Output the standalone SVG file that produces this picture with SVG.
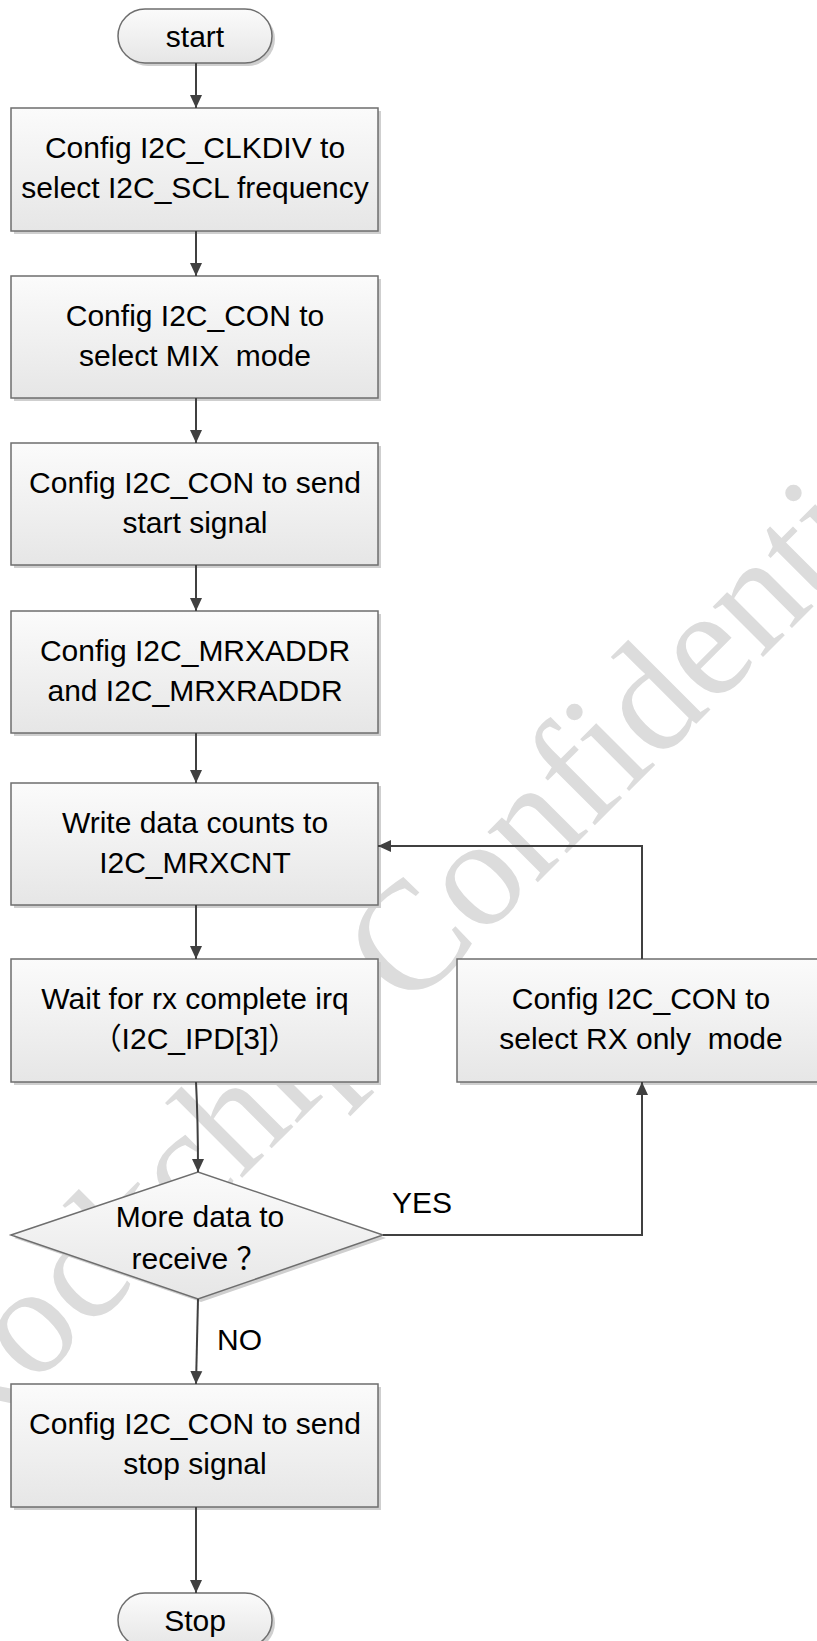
<svg xmlns="http://www.w3.org/2000/svg" width="817" height="1641" viewBox="0 0 817 1641">
<style>
.box{fill:url(#g);stroke:#6e6e6e;stroke-width:1.5}
.sh{fill:#cfcfcf}
.t{font-family:"Liberation Sans","Noto Sans CJK SC",sans-serif;font-size:30px;fill:#000;text-anchor:middle}
.lbl{font-family:"Liberation Sans",sans-serif;font-size:30px;fill:#000}
.c{fill:none;stroke:#404040;stroke-width:2}
.wm{font-family:"Liberation Serif",serif;font-size:155px;fill:#dcdcdc}
</style>
<defs>
<linearGradient id="g" x1="0" y1="0" x2="0" y2="1">
<stop offset="0" stop-color="#fbfbfb"/>
<stop offset="1" stop-color="#e6e6e6"/>
</linearGradient>
<marker id="arr" markerWidth="14" markerHeight="14" refX="13" refY="7" orient="auto" markerUnits="userSpaceOnUse">
<path d="M0,1 L13,7 L0,13 z" fill="#404040"/>
</marker>
</defs>
<rect width="817" height="1641" fill="#fff"/>
<text class="wm" transform="translate(-40,1460) rotate(-45)">Rockchip Confidential</text>

<g id="start">
<rect class="sh" x="121" y="12" width="154" height="54" rx="27"/>
<rect class="box" x="118" y="9" width="154" height="54" rx="27"/>
<text class="t" x="195" y="47">start</text>
</g>
<g id="clkdiv">
<rect class="sh" x="14" y="111" width="367" height="123"/>
<rect class="box" x="11" y="108" width="367" height="123"/>
<text class="t" x="195" y="158">Config I2C_CLKDIV to</text>
<text class="t" x="195" y="198">select I2C_SCL frequency</text>
</g>
<g id="mix">
<rect class="sh" x="14" y="279" width="367" height="122"/>
<rect class="box" x="11" y="276" width="367" height="122"/>
<text class="t" x="195" y="326" xml:space="preserve">Config I2C_CON to</text>
<text class="t" x="195" y="366" xml:space="preserve">select MIX  mode</text>
</g>
<g id="startsig">
<rect class="sh" x="14" y="446" width="367" height="122"/>
<rect class="box" x="11" y="443" width="367" height="122"/>
<text class="t" x="195" y="493">Config I2C_CON to send</text>
<text class="t" x="195" y="533">start signal</text>
</g>
<g id="addr">
<rect class="sh" x="14" y="614" width="367" height="122"/>
<rect class="box" x="11" y="611" width="367" height="122"/>
<text class="t" x="195" y="661">Config I2C_MRXADDR</text>
<text class="t" x="195" y="701">and I2C_MRXRADDR</text>
</g>
<g id="cnt">
<rect class="sh" x="14" y="786" width="367" height="122"/>
<rect class="box" x="11" y="783" width="367" height="122"/>
<text class="t" x="195" y="833">Write data counts to</text>
<text class="t" x="195" y="873">I2C_MRXCNT</text>
</g>
<g id="wait">
<rect class="sh" x="14" y="962" width="367" height="123"/>
<rect class="box" x="11" y="959" width="367" height="123"/>
<text class="t" x="195" y="1009">Wait for rx complete irq</text>
<text class="t" x="195" y="1049">（I2C_IPD[3]）</text>
</g>
<g id="rxonly">
<rect class="sh" x="460" y="962" width="367" height="123"/>
<rect class="box" x="457" y="959" width="367" height="123"/>
<text class="t" x="641" y="1009">Config I2C_CON to</text>
<text class="t" x="641" y="1049" xml:space="preserve">select RX only  mode</text>
</g>
<g id="more">
<polygon class="sh" points="14,1238 201,1175 386,1238 201,1302"/>
<polygon class="box" points="11,1235 198,1172 383,1235 198,1299"/>
<text class="t" x="200" y="1227">More data to</text>
<text class="t" x="199" y="1269">receive ？</text>
</g>
<g id="stopsig">
<rect class="sh" x="14" y="1387" width="367" height="123"/>
<rect class="box" x="11" y="1384" width="367" height="123"/>
<text class="t" x="195" y="1434">Config I2C_CON to send</text>
<text class="t" x="195" y="1474">stop signal</text>
</g>
<g id="stop">
<rect class="sh" x="121" y="1596" width="154" height="54" rx="27"/>
<rect class="box" x="118" y="1593" width="154" height="54" rx="27"/>
<text class="t" x="195" y="1631">Stop</text>
</g>

<g id="connectors">
<line class="c" x1="196" y1="63" x2="196" y2="108" marker-end="url(#arr)"/>
<line class="c" x1="196" y1="231" x2="196" y2="276" marker-end="url(#arr)"/>
<line class="c" x1="196" y1="398" x2="196" y2="443" marker-end="url(#arr)"/>
<line class="c" x1="196" y1="565" x2="196" y2="611" marker-end="url(#arr)"/>
<line class="c" x1="196" y1="733" x2="196" y2="783" marker-end="url(#arr)"/>
<line class="c" x1="196" y1="905" x2="196" y2="959" marker-end="url(#arr)"/>
<path class="c" d="M196,1082 Q198,1120 198,1172" marker-end="url(#arr)"/>
<line class="c" x1="198" y1="1299" x2="196" y2="1384" marker-end="url(#arr)"/>
<line class="c" x1="196" y1="1507" x2="196" y2="1593" marker-end="url(#arr)"/>
<polyline class="c" points="383,1235 642,1235 642,1082" marker-end="url(#arr)"/>
<polyline class="c" points="642,959 642,846 378,846" marker-end="url(#arr)"/>
<text class="lbl" x="392" y="1213">YES</text>
<text class="lbl" x="217" y="1350">NO</text>
</g>
</svg>
